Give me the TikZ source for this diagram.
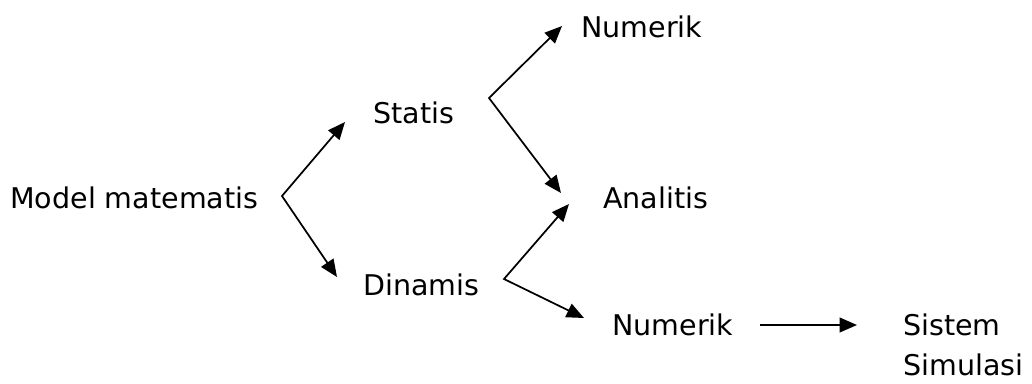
\documentclass[tikz,border=0pt]{standalone}
\usepackage{fontspec}
\setmainfont{DejaVu Sans}
\usetikzlibrary{arrows.meta}

\begin{document}
\begin{tikzpicture}[x=0.75pt,y=-0.75pt,
  lbl/.style={anchor=west,inner sep=0pt,font=\fontsize{21.4}{30}\selectfont},
  fork/.style={line width=1.3pt,{Triangle[length=13pt,width=11pt]}-{Triangle[length=13pt,width=11pt]}},
  arr/.style={line width=1.3pt,-{Triangle[length=13pt,width=11pt]}}]
\useasboundingbox (0,0) rectangle (1032,383);
% words
\node[lbl] (model) at (10,198) {Model matematis};
\node[lbl] (statis) at (373,113) {Statis};
\node[lbl] (dinamis) at (363,285) {Dinamis};
\node[lbl] (numA) at (581,27) {Numerik};
\node[lbl] (analitis) at (603,198) {Analitis};
\node[lbl] (numB) at (612,325) {Numerik};
\node[lbl,align=left] (sim) at (903,345) {Sistem\\Simulasi};
% forks
\coordinate (c1) at (282,196);
\coordinate (c2) at (489,98);
\coordinate (c3) at (504,279);
\coordinate (tStatis) at (345,122);
\coordinate (tDinamis) at (337,277);
\coordinate (tNumA) at (562,26);
\coordinate (tAnalA) at (561,193);
\coordinate (tAnalB) at (569,204);
\coordinate (tNumB) at (584,318);
\draw[fork] (tStatis) -- (c1) -- (tDinamis);
\draw[fork] (tNumA) -- (c2) -- (tAnalA);
\draw[fork] (tAnalB) -- (c3) -- (tNumB);
\draw[arr,shorten <=20pt,shorten >=34.5pt] (numB.east) -- (numB.east -| sim.west);
\end{tikzpicture}
\end{document}
